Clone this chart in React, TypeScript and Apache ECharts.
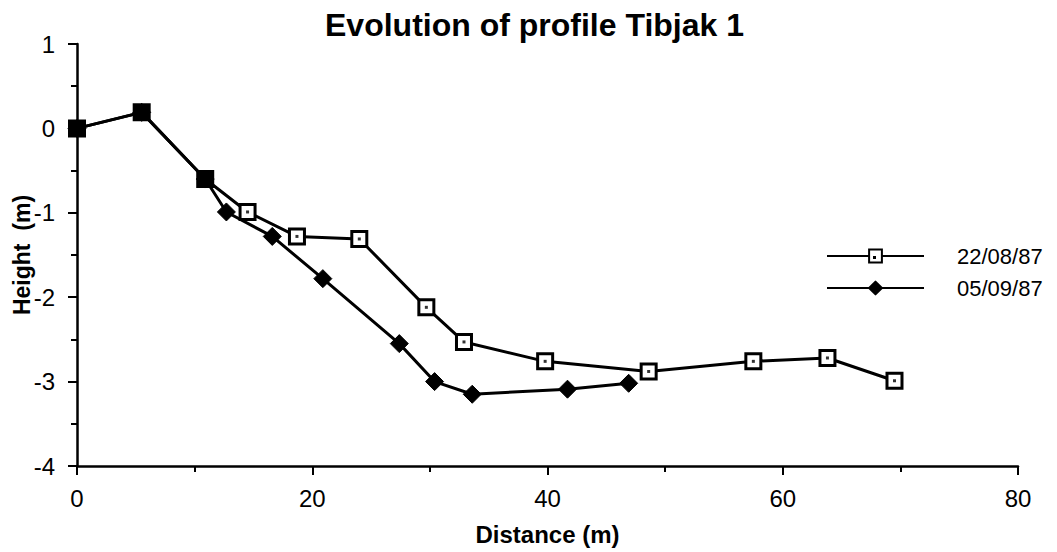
import React, { useEffect, useRef } from "react";
import * as echarts from "echarts";

const titleText = "Evolution of profile Tibjak 1";
const xAxisName = "Distance (m)";
const yAxisName = "Height  (m)";
const seriesNames = ["22/08/87", "05/09/87"];

const distance22 = [0, 5.5, 10.9, 14.5, 18.7, 24.0, 29.7, 32.9, 39.8, 48.6, 57.5, 63.8, 69.5];
const height22 = [0, 0.19, -0.6, -0.99, -1.28, -1.31, -2.12, -2.53, -2.76, -2.88, -2.76, -2.72, -2.99];

const distance05 = [0, 5.5, 10.9, 12.7, 16.6, 20.9, 27.4, 30.4, 33.6, 41.7, 46.9];
const height05 = [0, 0.19, -0.6, -0.99, -1.28, -1.78, -2.55, -3.0, -3.15, -3.09, -3.02];

const FONT = "'Liberation Sans', Arial, Helvetica, sans-serif";

export default function App() {
  const ref = useRef<HTMLDivElement>(null);

  useEffect(() => {
    if (!ref.current) return;
    const chart = echarts.init(ref.current, null, { renderer: "svg" });

    const shared = (x: number, y: number) =>
      distance05.some((d, i) => d === x && height05[i] === y);

    const data22 = distance22.map((d, i) => {
      const v = [d, height22[i]];
      return shared(d, height22[i])
        ? { value: v, itemStyle: { color: "#000" } }
        : { value: v };
    });
    const data05 = distance05.map((d, i) => [d, height05[i]]);
    const dots22 = distance22.map((d, i) => [d, height22[i]]);

    chart.setOption({
      animation: false,
      backgroundColor: "#fff",
      textStyle: { fontFamily: FONT, color: "#000" },
      title: {
        text: titleText,
        left: 320,
        top: 4,
        textStyle: { fontFamily: FONT, fontSize: 32, fontWeight: "bold", color: "#000" },
      },
      legend: {
        orient: "vertical",
        left: 826,
        top: 245,
        padding: 0,
        itemWidth: 97,
        itemHeight: 16,
        itemGap: 10,
        data: seriesNames,
        textStyle: {
          fontFamily: FONT,
          fontSize: 22,
          color: "#000",
          padding: [0, 0, 0, 28],
        },
      },
      graphic: [
        {
          type: "rect",
          silent: true,
          z: 100,
          shape: { x: 873, y: 256, width: 3, height: 3 },
          style: { fill: "#000" },
        },
      ],
      grid: { left: 77, right: 39, top: 44, bottom: 86, containLabel: false, outerBoundsMode: "none" },
      xAxis: {
        type: "value",
        min: 0,
        max: 80,
        interval: 20,
        name: xAxisName,
        nameLocation: "middle",
        nameGap: 56,
        nameMoveOverlap: false,
        nameTextStyle: { fontFamily: FONT, fontSize: 24, fontWeight: "bold", color: "#000" },
        axisLine: { onZero: false, lineStyle: { color: "#000", width: 2.5 } },
        axisTick: { show: true, inside: false, length: 9, lineStyle: { color: "#000", width: 2 } },
        minorTick: { show: true, splitNumber: 2, length: 6, lineStyle: { color: "#000", width: 2 } },
        splitLine: { show: false },
        axisLabel: { fontFamily: FONT, fontSize: 24, color: "#000", margin: 20 },
      },
      yAxis: {
        type: "value",
        min: -4,
        max: 1,
        interval: 1,
        name: yAxisName,
        nameLocation: "middle",
        nameGap: 44,
        nameMoveOverlap: false,
        nameTextStyle: { fontFamily: FONT, fontSize: 23, fontWeight: "bold", color: "#000" },
        axisLine: { show: true, onZero: false, lineStyle: { color: "#000", width: 2.5 } },
        axisTick: { show: true, inside: false, length: 9, lineStyle: { color: "#000", width: 2 } },
        minorTick: { show: true, splitNumber: 2, length: 6, lineStyle: { color: "#000", width: 2 } },
        splitLine: { show: false },
        axisLabel: { fontFamily: FONT, fontSize: 24, color: "#000", margin: 22 },
      },
      series: [
        {
          name: seriesNames[1],
          type: "line",
          data: data05,
          symbol: "diamond",
          symbolSize: 18,
          z: 2,
          lineStyle: { color: "#000", width: 3 },
          itemStyle: { color: "#000", borderColor: "#000", borderWidth: 1, borderJoin: "round" },
        },
        {
          name: seriesNames[0],
          type: "line",
          data: data22,
          symbol: "rect",
          symbolSize: 15,
          z: 3,
          lineStyle: { color: "#000", width: 3 },
          itemStyle: { color: "#fff", borderColor: "#000", borderWidth: 3 },
        },
        {
          name: "dots",
          type: "scatter",
          data: dots22,
          symbol: "rect",
          symbolSize: 3,
          silent: true,
          z: 4,
          itemStyle: { color: "#000" },
        },
      ],
    });

    return () => chart.dispose();
  }, []);

  return (
    <div
      ref={ref}
      style={{ position: "fixed", left: 0, top: 0, width: 1057, height: 552, background: "#fff" }}
    />
  );
}
